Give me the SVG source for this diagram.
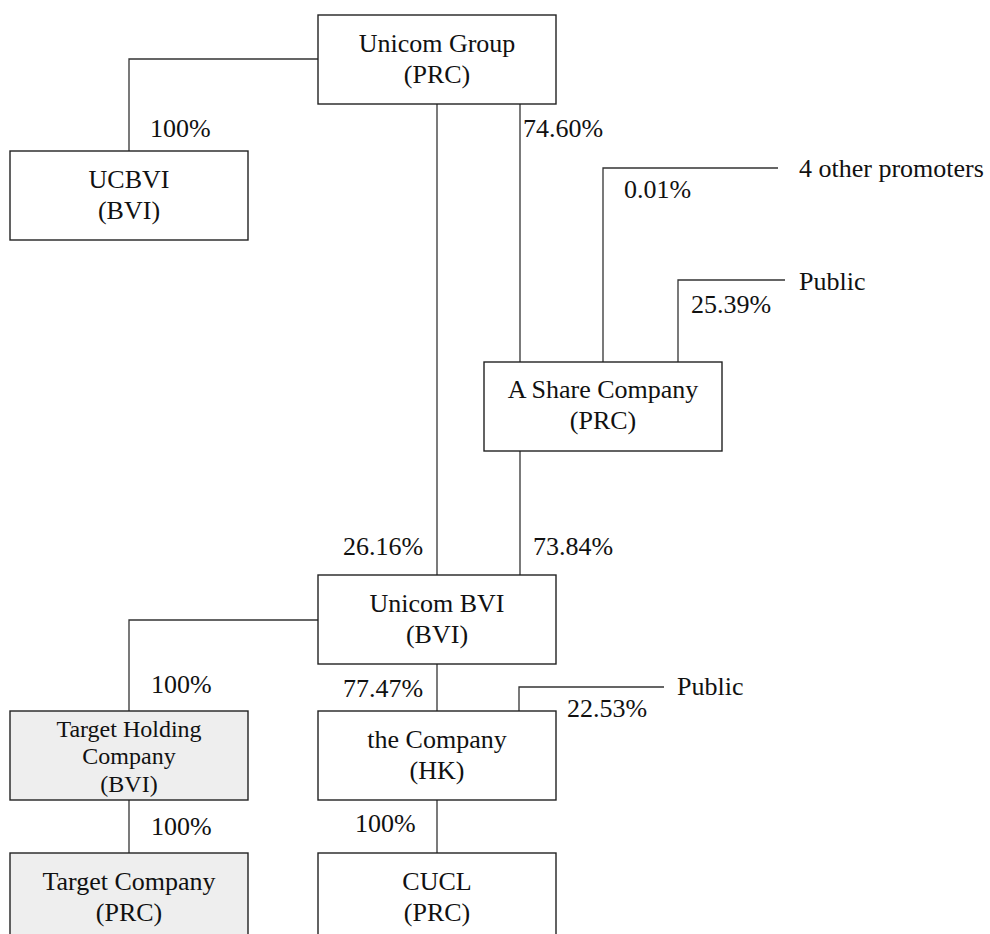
<svg xmlns="http://www.w3.org/2000/svg" width="990" height="934" viewBox="0 0 990 934" font-family="'Liberation Serif', 'Times New Roman', 'DejaVu Serif', serif">
<style>
.box{fill:#fff;stroke:#222;stroke-width:1.4}
.grey{fill:#eeeeee}
text{font-family:'Liberation Serif','Times New Roman','DejaVu Serif',serif;font-size:26px;fill:#111}
.c{text-anchor:middle}
.sm{font-size:24px}
.ln{fill:none;stroke:#333;stroke-width:1.3}
</style>
<rect width="990" height="934" fill="#fff"/>
<g id="connectors">
<polyline class="ln" points="318,59 129,59 129,151"/>
<line class="ln" x1="437" y1="104" x2="437" y2="575"/>
<line class="ln" x1="520" y1="104" x2="520" y2="362"/>
<polyline class="ln" points="778,168 603,168 603,362"/>
<polyline class="ln" points="785,280 678,280 678,362"/>
<line class="ln" x1="520" y1="451" x2="520" y2="575"/>
<polyline class="ln" points="318,620 129,620 129,711"/>
<line class="ln" x1="437" y1="664" x2="437" y2="711"/>
<polyline class="ln" points="664,687 519,687 519,711"/>
<line class="ln" x1="129" y1="800" x2="129" y2="853"/>
<line class="ln" x1="437" y1="800" x2="437" y2="853"/>
</g>
<g id="labels">
<text x="150" y="137">100%</text>
<text x="523" y="137">74.60%</text>
<text x="624" y="198">0.01%</text>
<text x="691" y="313">25.39%</text>
<text x="799" y="177">4 other promoters</text>
<text x="799" y="290">Public</text>
<text x="343" y="555">26.16%</text>
<text x="533" y="555">73.84%</text>
<text x="151" y="693">100%</text>
<text x="343" y="697">77.47%</text>
<text x="677" y="695">Public</text>
<text x="567" y="717">22.53%</text>
<text x="151" y="835">100%</text>
<text x="355" y="832">100%</text>
</g>
<g id="unicom-group">
<rect class="box" x="318" y="15" width="238" height="89"/>
<text class="c" x="437" y="52">Unicom Group</text>
<text class="c" x="437" y="83">(PRC)</text>
</g>
<g id="ucbvi">
<rect class="box" x="10" y="151" width="238" height="89"/>
<text class="c" x="129" y="188">UCBVI</text>
<text class="c" x="129" y="219">(BVI)</text>
</g>
<g id="a-share-company">
<rect class="box" x="484" y="362" width="238" height="89"/>
<text class="c" x="603" y="398">A Share Company</text>
<text class="c" x="603" y="429">(PRC)</text>
</g>
<g id="unicom-bvi">
<rect class="box" x="318" y="575" width="238" height="89"/>
<text class="c" x="437" y="612">Unicom BVI</text>
<text class="c" x="437" y="643">(BVI)</text>
</g>
<g id="target-holding">
<rect class="box grey" x="10" y="711" width="238" height="89"/>
<text class="c sm" x="129" y="737">Target Holding</text>
<text class="c sm" x="129" y="764">Company</text>
<text class="c sm" x="129" y="792">(BVI)</text>
</g>
<g id="the-company">
<rect class="box" x="318" y="711" width="238" height="89"/>
<text class="c" x="437" y="748">the Company</text>
<text class="c" x="437" y="779">(HK)</text>
</g>
<g id="target-company">
<rect class="box grey" x="10" y="853" width="238" height="90"/>
<text class="c" x="129" y="890">Target Company</text>
<text class="c" x="129" y="921">(PRC)</text>
</g>
<g id="cucl">
<rect class="box" x="318" y="853" width="238" height="90"/>
<text class="c" x="437" y="890">CUCL</text>
<text class="c" x="437" y="921">(PRC)</text>
</g>
</svg>
